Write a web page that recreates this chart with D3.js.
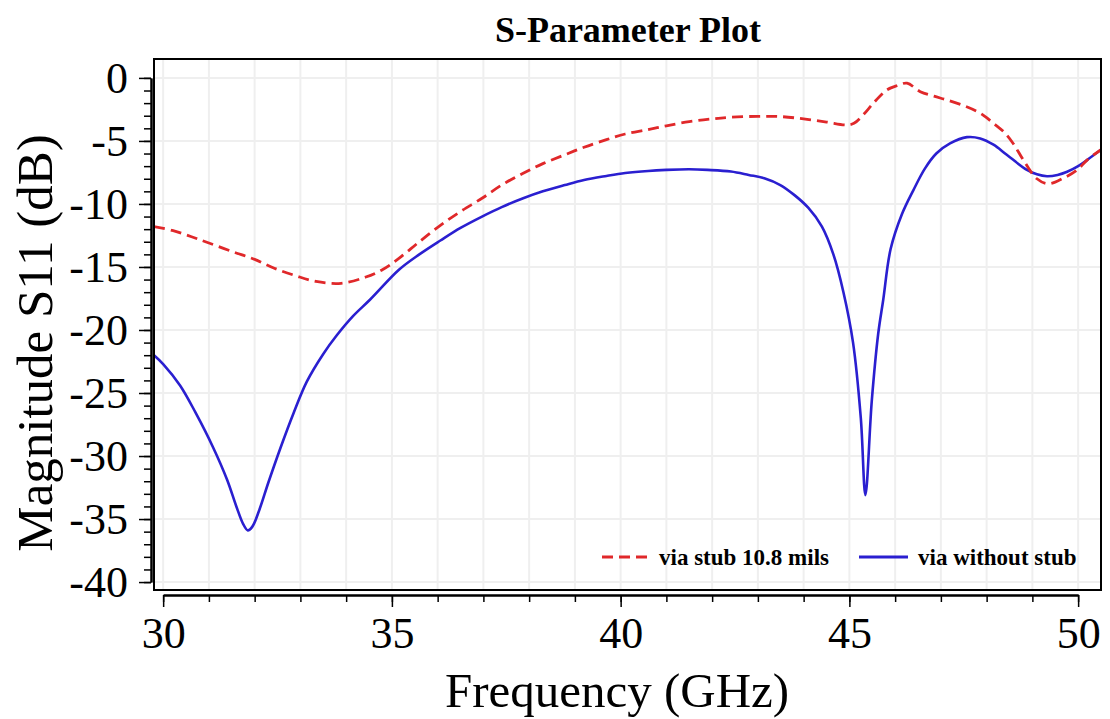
<!DOCTYPE html>
<html>
<head>
<meta charset="utf-8">
<script src="https://cdn.jsdelivr.net/npm/d3@7"></script>
<style>
  html, body { margin: 0; padding: 0; background: #fff; }
  svg { display: block; }
</style>
</head>
<body>
<svg id="chart" width="1110" height="719"></svg>
<script>
// ---- Data ----
const stubFreq = [29.8, 30.2, 30.62, 31.0, 31.53, 32.0, 32.43, 32.9, 33.34, 33.89, 34.43, 34.8, 35.16, 35.6, 36.06, 36.5, 36.97, 37.4, 37.87, 38.3, 38.78, 39.2, 39.69, 40.1, 40.6, 41.0, 41.5, 42.0, 42.41, 43.0, 43.5, 44.0, 44.5, 44.94, 45.1, 45.3, 45.55, 45.82, 46.05, 46.26, 46.55, 46.85, 47.13, 47.5, 47.86, 48.15, 48.38, 48.58, 48.8, 49.1, 49.35, 49.68, 49.98, 50.2, 50.5];
const stubS11 = [-11.8, -12.1, -12.6, -13.1, -13.8, -14.4, -15.1, -15.7, -16.15, -16.3, -15.8, -15.2, -14.3, -13.0, -11.7, -10.6, -9.55, -8.5, -7.56, -6.8, -6.1, -5.5, -4.9, -4.45, -4.1, -3.8, -3.47, -3.25, -3.12, -3.05, -3.07, -3.25, -3.5, -3.73, -3.6, -2.94, -1.9, -0.95, -0.6, -0.42, -1.09, -1.45, -1.75, -2.2, -2.8, -3.6, -4.3, -5.2, -6.5, -8.0, -8.4, -7.95, -7.3, -6.5, -5.7];

const noStubFreq = [29.8, 30.0, 30.37, 30.7, 31.09, 31.4, 31.6, 31.75, 31.85, 31.95, 32.1, 32.3, 32.56, 32.85, 33.14, 33.5, 33.8, 34.15, 34.52, 35.16, 35.6, 36.06, 36.5, 36.97, 37.4, 37.87, 38.3, 38.78, 39.2, 39.69, 40.1, 40.6, 41.0, 41.5, 41.9, 42.41, 42.8, 43.14, 43.49, 43.8, 44.1, 44.4, 44.65, 44.87, 45.08, 45.25, 45.35, 45.49, 45.63, 45.74, 45.9, 46.15, 46.4, 46.65, 46.9, 47.2, 47.57, 47.86, 48.15, 48.44, 48.88, 49.1, 49.32, 49.55, 49.76, 50.0, 50.2, 50.5];
const noStubS11 = [-22.0, -22.7, -24.4, -26.5, -29.3, -31.9, -34.0, -35.4, -35.9, -35.6, -34.3, -32.1, -29.4, -26.6, -24.1, -21.9, -20.4, -18.9, -17.6, -15.2, -14.0, -12.9, -11.9, -11.0, -10.25, -9.55, -9.0, -8.5, -8.1, -7.78, -7.55, -7.38, -7.3, -7.25, -7.3, -7.43, -7.7, -7.96, -8.5, -9.3, -10.3, -11.8, -14.0, -17.0, -21.0, -27.0, -33.1, -25.6, -20.3, -17.6, -13.6, -10.8, -8.9, -7.2, -6.0, -5.2, -4.7, -4.8, -5.3, -6.1, -7.3, -7.65, -7.8, -7.7, -7.45, -7.0, -6.5, -5.7];

const seriesNames = ["via stub 10.8 mils", "via without stub"];
const xMajorTicks = [30, 35, 40, 45, 50];
const xMinorTicks = [30, 31, 32, 33, 34, 35, 36, 37, 38, 39, 40, 41, 42, 43, 44, 45, 46, 47, 48, 49, 50];
const yMajorTicks = [0, -5, -10, -15, -20, -25, -30, -35, -40];
const yMinorTicks = d3.range(0, -41, -1);
const titleText = "S-Parameter Plot";
const xTitle = "Frequency (GHz)";
const yTitle = "Magnitude S11 (dB)";

// ---- Layout ----
const svg = d3.select("#chart");
const frame = { left: 154, right: 1101, top: 59, bottom: 590 };
const serif = "'Liberation Serif', 'Times New Roman', serif";

const x = d3.scaleLinear().domain([29.8, 50.5]).range([frame.left, frame.right]);
const y = d3.scaleLinear().domain([1.5, -40.63]).range([frame.top, frame.bottom]);

// clip
svg.append("defs").append("clipPath").attr("id", "plotclip")
  .append("rect").attr("x", frame.left).attr("y", frame.top)
  .attr("width", frame.right - frame.left).attr("height", frame.bottom - frame.top);

// grid
const grid = svg.append("g").attr("clip-path", "url(#plotclip)");
grid.selectAll("line.vg").data(xMinorTicks).join("line")
  .attr("x1", d => x(d)).attr("x2", d => x(d))
  .attr("y1", frame.top).attr("y2", frame.bottom)
  .attr("stroke", "#efefef").attr("stroke-width", 2);
grid.selectAll("line.hg").data(yMajorTicks).join("line")
  .attr("x1", frame.left).attr("x2", frame.right)
  .attr("y1", d => y(d)).attr("y2", d => y(d))
  .attr("stroke", "#efefef").attr("stroke-width", 2);

// curves
const line = d3.line().x(d => x(d[0])).y(d => y(d[1])).curve(d3.curveCatmullRom.alpha(0.5));
const stubData = stubFreq.map((f, i) => [f, stubS11[i]]);
const noStubData = noStubFreq.map((f, i) => [f, noStubS11[i]]);
const plot = svg.append("g").attr("clip-path", "url(#plotclip)");
plot.append("path").datum(noStubData).attr("d", line)
  .attr("fill", "none").attr("stroke", "#2a1fd0").attr("stroke-width", 2.6)
  .attr("stroke-linejoin", "round");
plot.append("path").datum(stubData).attr("d", line)
  .attr("fill", "none").attr("stroke", "#e0282a").attr("stroke-width", 2.8)
  .attr("stroke-dasharray", "11,6");

// frame
svg.append("rect").attr("x", frame.left).attr("y", frame.top)
  .attr("width", frame.right - frame.left).attr("height", frame.bottom - frame.top)
  .attr("fill", "none").attr("stroke", "#000").attr("stroke-width", 2);

// axes (offset, only over tick range)
const xAxisScale = x.copy().domain([30, 50]).range([x(30), x(50)]);
const yAxisScale = y.copy().domain([0, -40]).range([y(0), y(-40)]);
const xAxisY = 595, yAxisX = 151;
const fmt = d => String(d);

function styleAxis(g) {
  g.selectAll("path.domain").attr("stroke", "#000").attr("stroke-width", 2);
  g.selectAll(".tick line").attr("stroke", "#000").attr("stroke-width", 1.5);
}

const gxMinor = svg.append("g").attr("transform", `translate(0,${xAxisY})`)
  .call(d3.axisBottom(xAxisScale).tickValues(xMinorTicks).tickSize(7).tickSizeOuter(0).tickFormat(""));
styleAxis(gxMinor);
const gxMajor = svg.append("g").attr("transform", `translate(0,${xAxisY})`)
  .call(d3.axisBottom(xAxisScale).tickValues(xMajorTicks).tickSize(12).tickSizeOuter(0).tickFormat(fmt));
styleAxis(gxMajor);
gxMajor.selectAll(".tick text").attr("y", 53).attr("dy", 0)
  .attr("font-family", serif).attr("font-size", 44).attr("fill", "#000");

const gyMinor = svg.append("g").attr("transform", `translate(${yAxisX},0)`)
  .call(d3.axisLeft(yAxisScale).tickValues(yMinorTicks).tickSize(7).tickSizeOuter(0).tickFormat(""));
styleAxis(gyMinor);
const gyMajor = svg.append("g").attr("transform", `translate(${yAxisX},0)`)
  .call(d3.axisLeft(yAxisScale).tickValues(yMajorTicks).tickSize(12).tickSizeOuter(0).tickFormat(fmt));
styleAxis(gyMajor);
gyMajor.selectAll(".tick text").attr("x", -23).attr("dy", "0.33em")
  .attr("font-family", serif).attr("font-size", 44).attr("fill", "#000");

// titles
svg.append("text").attr("x", 628).attr("y", 42).attr("text-anchor", "middle")
  .attr("font-family", serif).attr("font-weight", "bold").attr("font-size", 36)
  .text(titleText);
svg.append("text").attr("x", 617).attr("y", 707).attr("text-anchor", "middle")
  .attr("font-family", serif).attr("font-size", 49).text(xTitle);
svg.append("text").attr("transform", "translate(52,343) rotate(-90)").attr("text-anchor", "middle")
  .attr("font-family", serif).attr("font-size", 51).text(yTitle);

// legend
const legend = svg.append("g");
const legendItems = [
  { name: seriesNames[0], color: "#e0282a", dash: "11,6", x1: 602, x2: 651, tx: 659 },
  { name: seriesNames[1], color: "#2a1fd0", dash: null, x1: 859, x2: 908, tx: 918 }
];
const ly = 557;
legendItems.forEach(it => {
  legend.append("line").attr("x1", it.x1).attr("x2", it.x2).attr("y1", ly).attr("y2", ly)
    .attr("stroke", it.color).attr("stroke-width", 2.8)
    .attr("stroke-dasharray", it.dash);
  legend.append("text").attr("x", it.tx).attr("y", ly + 8)
    .attr("font-family", serif).attr("font-weight", "bold").attr("font-size", 23)
    .text(it.name);
});
</script>
</body>
</html>
